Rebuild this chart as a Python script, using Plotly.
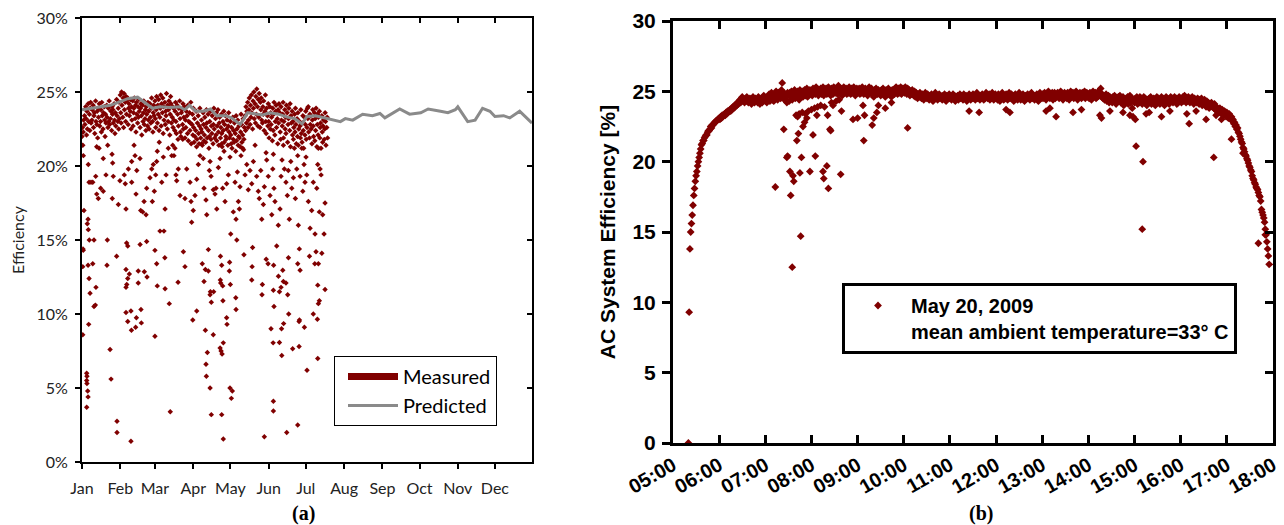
import plotly.graph_objects as go
import pandas as pd

# the page body has an 8 px margin, so the figure is sized to fit the 1284x525 window
OFF = 8
FW, FH = 1284 - OFF, 525 - OFF
DARK_RED = "#800000"
GRAY = "#8a8a8a"


def px(X):
    return (X - OFF) / FW


def py(Y):
    return 1 - (Y - OFF) / FH


# ---------------- Panel (a) data ----------------
months = ["Jan", "Feb", "Mar", "Apr", "May", "Jun", "Jul", "Aug", "Sep", "Oct", "Nov", "Dec"]
month_start_day = [1, 32, 60, 91, 121, 152, 182, 213, 244, 274, 305, 335]

pred_day = [1, 9, 16, 24, 32, 38, 46, 52, 58, 64, 72, 80, 84, 88, 93, 99, 105, 110, 117, 122,
            129, 135, 141, 147, 153, 160, 167, 173, 179, 183, 190, 199, 210, 214, 220, 228, 236,
            242, 246, 258, 266, 275, 281, 291, 297, 303, 305, 313, 319, 325, 331, 335, 342, 347,
            355, 365]
pred_eff = [23.8, 23.9, 24.0, 24.1, 24.35, 24.55, 24.65, 24.3, 23.9, 24.0, 23.95, 24.0, 23.8, 24.1,
            23.7, 23.7, 23.85, 23.4, 23.4, 23.25, 22.8, 23.6, 23.5, 23.45, 23.6, 23.5, 23.3, 23.2,
            22.85, 23.35, 23.4, 23.2, 23.0, 23.2, 23.1, 23.5, 23.4, 23.55, 23.25, 23.85, 23.5,
            23.6, 23.85, 23.7, 23.6, 23.8, 24.0, 23.0, 23.1, 23.9, 23.7, 23.35, 23.4, 23.25, 23.7,
            22.9]

# measured efficiency, dense band: one list of readings per day (day 1 .. 199)
band_eff_by_day = [
    [22.0, 22.6, 21.4], [22.3, 23.1], [23.4, 22.8], [24.0, 23.2, 22.1], [23.7, 22.5],
    [24.2, 23.0], [23.5, 22.4, 23.9], [24.3, 22.9], [23.1, 23.8], [24.1, 22.6, 23.4],
    [23.6, 22.2], [24.4, 23.0], [22.8, 23.7, 21.9], [23.9, 23.3], [24.2, 22.7],
    [23.0, 23.8, 22.3], [24.3, 23.4], [22.5, 23.6], [24.0, 23.1, 22.0], [23.5, 22.9],
    [24.1, 23.3], [22.6, 23.9, 23.0], [24.4, 22.8], [23.2, 23.7], [22.4, 24.0, 23.5],
    [23.8, 22.9], [24.2, 23.1, 22.2], [23.6, 22.7], [24.5, 23.4], [23.0, 23.9, 22.5],
    [24.3, 23.2],
    [24.8, 23.6, 22.9], [25.0, 24.1], [23.3, 24.6, 22.6], [24.9, 23.8], [24.3, 23.0, 24.7],
    [23.5, 24.4], [24.6, 22.8, 23.9], [24.2, 23.4], [23.7, 24.5, 22.5], [24.0, 23.1],
    [24.4, 22.7, 23.6], [23.9, 24.6], [23.2, 24.1, 22.3], [24.3, 23.5], [22.9, 24.0, 23.3],
    [24.5, 23.7], [22.6, 23.9, 24.2], [23.4, 22.1], [24.1, 23.0, 23.6], [24.4, 22.8],
    [23.2, 23.8, 22.4], [24.0, 23.5], [22.7, 24.3, 23.1], [23.7, 22.5], [24.2, 23.3, 22.9],
    [23.9, 24.6], [23.0, 22.3, 23.6], [24.1, 23.4],
    [24.4, 23.2, 22.6], [23.8, 24.7], [22.9, 24.1, 23.5], [24.5, 22.4], [23.3, 23.9, 24.8],
    [22.7, 24.2], [23.6, 24.6, 22.2], [24.0, 23.1], [24.3, 22.8, 23.7], [23.4, 24.9],
    [22.5, 24.1, 23.0], [23.8, 24.4], [22.1, 23.5, 24.7], [24.2, 22.9], [23.3, 24.0, 22.6],
    [23.9, 23.1], [22.4, 23.7, 24.3], [23.0, 22.2], [24.1, 23.5, 21.8], [22.7, 23.9],
    [24.4, 23.2, 22.3], [22.0, 23.6], [23.8, 22.8, 24.2], [22.5, 23.3], [24.0, 21.9, 23.1],
    [22.6, 23.7], [23.4, 22.2, 24.1], [21.7, 23.0], [23.6, 22.4, 22.9], [24.3, 21.5],
    [22.8, 23.5, 22.1],
    [23.9, 22.6, 21.6], [23.2, 22.0], [22.4, 23.7, 21.3], [21.8, 22.9], [23.4, 22.2, 21.5],
    [22.7, 23.9], [21.9, 22.5, 23.1], [22.3, 21.4], [23.6, 22.8, 21.7], [22.1, 23.3],
    [21.6, 22.6, 23.8], [22.9, 21.9], [23.5, 22.4, 21.2], [22.0, 23.0], [23.7, 21.8, 22.7],
    [22.2, 23.4], [21.5, 22.8, 23.9], [22.5, 21.9], [23.2, 22.1, 23.6], [21.7, 22.7],
    [23.8, 22.3, 21.4], [22.9, 23.3], [21.9, 22.6, 23.5], [22.2, 21.3], [23.0, 22.4, 23.7],
    [21.6, 22.8], [23.4, 22.0, 21.8], [22.5, 23.1], [21.4, 22.7, 23.6], [22.3, 21.9],
    [23.0, 22.1, 21.5], [22.6, 21.2], [23.3, 21.8, 22.4], [21.6, 22.9], [22.2, 21.0, 23.4],
    [21.7, 22.5], [23.1, 21.4, 22.0], [22.7, 21.9], [21.3, 22.3, 23.5], [22.8, 21.6],
    [22.1, 23.2, 21.1], [21.8, 22.6],
    [23.4, 22.4, 24.0], [22.9, 23.7], [24.3, 22.6, 23.1], [23.8, 24.6], [22.8, 24.1, 23.3],
    [24.8, 23.6], [22.5, 24.4, 23.9], [25.0, 23.2], [24.2, 22.9, 24.7], [23.5, 25.2],
    [24.0, 22.7, 24.5], [23.3, 24.9], [22.6, 24.3, 23.8], [24.6, 23.1], [22.9, 24.0, 23.5],
    [24.4, 22.4], [23.7, 24.8, 23.0], [22.2, 23.9],
    [23.4, 22.7, 24.2], [23.0, 21.9], [24.0, 22.5, 23.6], [22.8, 23.3], [21.7, 23.9, 22.4],
    [23.5, 24.3], [22.1, 23.0, 23.7], [24.1, 22.6], [23.2, 21.5, 23.8], [22.9, 24.2],
    [23.6, 22.3, 21.8], [24.0, 23.1], [22.7, 23.5, 24.3], [21.9, 23.0], [23.8, 22.5, 23.3],
    [22.2, 24.1], [23.6, 21.6, 22.8], [23.2, 23.9], [22.4, 24.2, 21.3], [23.4, 22.9],
    [23.7, 22.1, 23.0], [21.8, 22.6], [23.5, 22.3, 23.9], [22.8, 21.5], [23.2, 22.0, 23.6],
    [21.4, 22.5], [23.0, 22.7, 21.9], [23.8, 22.2], [21.6, 22.9, 23.4], [22.4, 21.2],
    [23.3, 22.1, 22.8], [23.7, 21.8], [22.6, 23.9, 23.2], [24.0, 22.3], [21.9, 23.5, 22.8],
    [23.4, 22.5], [21.5, 23.1, 23.8], [22.7, 22.0], [23.6, 21.7, 23.2], [22.4, 23.9],
    [21.3, 22.8, 23.5], [22.1, 23.3], [23.7, 21.9, 22.6], [22.9, 21.2], [23.4, 22.3, 21.6],
    [22.7, 23.1], [21.8, 22.5, 23.6], [23.0, 21.4], [22.6, 23.3, 21.9],
]

# measured efficiency, scattered readings 13-22 % (day, %)
mid_points = [
    (1.8, 14.4), (2.0, 14.3), (2.6, 17.0), (5.9, 16.4), (5.3, 16.1), (6.1, 15.7), (10.7, 15.0),
    (6.9, 15.0), (2.1, 20.7), (6.1, 20.1), (6.7, 18.9), (8.3, 18.9), (9.7, 18.9), (12.1, 19.3),
    (12.9, 18.1), (14.2, 17.8), (16.1, 18.5), (18.2, 18.3), (20.4, 19.4), (21.5, 15.0),
    (12.9, 21.3), (14.8, 21.2), (18.2, 20.5), (21.8, 21.4), (25.3, 20.8), (25.8, 20.2),
    (25.5, 17.8), (26.3, 19.3), (30.4, 17.4), (31.7, 19.0), (35.2, 19.4), (36.0, 18.8),
    (36.6, 17.1), (37.1, 14.8), (38.5, 19.8), (41.2, 20.3), (41.2, 18.9), (43.1, 21.4),
    (43.9, 20.7), (44.7, 18.1), (45.3, 19.7), (47.9, 20.5), (48.5, 17.0), (50.1, 16.9),
    (51.2, 17.6), (52.8, 16.7), (53.3, 14.9), (53.3, 18.5), (56.0, 19.2), (57.4, 19.8),
    (57.9, 17.6), (58.7, 20.1), (59.5, 18.3), (60.6, 19.4), (61.4, 20.3), (61.9, 21.0),
    (63.5, 21.6), (64.1, 15.6), (65.5, 18.9), (66.8, 20.6), (67.3, 15.6), (68.2, 17.1),
    (69.0, 19.4), (70.8, 21.2), (73.6, 20.7), (74.4, 21.4), (75.4, 20.7), (76.2, 21.2),
    (77.0, 19.4), (77.6, 19.0), (78.9, 19.8), (80.3, 18.0), (82.5, 21.8), (84.3, 17.8),
    (85.7, 19.8), (88.4, 18.9), (89.2, 17.6), (89.7, 16.2), (91.0, 17.0), (92.4, 18.0),
    (93.8, 19.1), (95.1, 20.1), (96.5, 20.7), (97.8, 21.5), (99.1, 20.5), (99.7, 18.5),
    (101.3, 17.7), (101.9, 16.7), (103.2, 14.35), (104.0, 19.7), (104.6, 20.3), (105.4, 19.3),
    (107.2, 18.4), (108.6, 18.1), (109.4, 18.5), (110.0, 17.1), (111.3, 19.9), (112.7, 20.5),
    (114.0, 21.5), (114.8, 18.5), (115.9, 21.0), (116.7, 17.6), (118.0, 18.8), (119.4, 19.4),
    (120.7, 20.6), (121.3, 15.4), (123.4, 16.9), (124.8, 18.9), (125.6, 16.4), (126.2, 15.0),
    (126.7, 19.6), (127.5, 17.6), (128.3, 17.1), (128.8, 18.6), (129.6, 20.7), (131.0, 21.2),
    (132.9, 19.4), (134.3, 20.1), (135.5, 18.4), (136.9, 19.7), (138.3, 18.8), (139.6, 20.3),
    (141.0, 21.4), (142.3, 19.3), (143.6, 18.3), (144.4, 17.8), (145.6, 19.7), (146.4, 16.4),
    (147.7, 17.4), (148.5, 18.6), (149.9, 20.9), (150.4, 20.4), (151.7, 19.3), (153.1, 18.0),
    (154.5, 16.7), (155.3, 19.8), (155.8, 20.8), (156.3, 18.5), (157.1, 17.6), (158.5, 14.6),
    (159.8, 16.0), (161.2, 17.1), (162.0, 19.3), (162.8, 20.4), (163.9, 21.4), (164.7, 19.8),
    (166.0, 18.9), (167.1, 18.0), (167.9, 19.7), (168.7, 16.4), (169.9, 20.3), (170.7, 18.5),
    (172.0, 19.2), (172.8, 21.2), (173.6, 17.8), (174.7, 19.8), (175.5, 20.7), (176.0, 16.0),
    (176.8, 14.4), (177.4, 19.3), (178.8, 21.2), (179.6, 18.3), (180.6, 20.1), (181.4, 18.9),
    (182.2, 20.6), (182.8, 19.4), (184.1, 17.6), (185.5, 15.8), (186.8, 17.0), (188.1, 18.9),
    (189.5, 15.4), (190.3, 14.2), (190.9, 18.5), (191.7, 20.1), (192.2, 21.2), (193.0, 16.9),
    (193.6, 19.8), (194.4, 19.4), (195.7, 16.7), (196.8, 15.4), (197.6, 17.5),
    (38.0, 14.6), (60.0, 14.3), (139.0, 14.5), (195.0, 14.1), (29.0, 13.9), (48.0, 14.7),
    (68.0, 13.8), (83.0, 14.2), (113.0, 13.9), (132.0, 14.0), (150.0, 13.7), (168.0, 13.8),
    (185.0, 13.9),
]

# measured efficiency, low outliers below 13.5 % (day, %)
low_points = [
    (1.6, 8.6), (4.8, 6.0), (5.0, 5.8), (4.8, 5.5), (5.0, 5.3), (5.6, 4.8), (5.9, 4.4),
    (4.8, 3.7), (6.4, 9.3), (7.5, 11.4), (6.7, 12.4), (9.7, 13.4), (10.7, 10.5), (11.8, 10.6),
    (12.3, 11.8), (5.9, 13.3), (1.6, 13.2), (21.2, 13.3), (23.7, 7.6), (24.5, 5.6), (29.3, 2.75),
    (29.3, 2.0), (40.6, 1.4), (36.6, 10.1), (38.0, 9.5), (40.6, 10.2), (41.0, 8.9), (44.4, 9.1),
    (45.0, 9.75), (48.7, 10.3), (49.0, 9.4), (36.6, 11.8), (37.2, 12.0), (38.0, 12.4),
    (39.3, 12.7), (36.6, 13.0), (46.5, 12.1), (46.5, 12.9), (51.4, 12.85), (53.6, 12.5),
    (60.0, 8.5), (61.4, 13.4), (61.9, 11.9), (68.2, 11.7), (71.6, 10.7), (72.4, 3.4),
    (78.7, 12.15), (84.3, 13.2), (90.6, 9.6), (93.8, 10.2), (98.3, 13.4), (99.7, 12.2),
    (100.8, 8.9), (101.3, 6.6), (101.6, 5.8), (102.4, 7.4), (100.8, 13.0), (103.2, 12.9),
    (104.6, 11.3), (104.9, 11.5), (105.6, 10.8), (107.5, 11.5), (107.2, 8.6), (104.6, 5.0),
    (105.6, 3.2), (112.9, 12.3), (113.2, 12.1), (114.0, 13.3), (114.8, 11.9), (115.0, 10.9),
    (112.7, 7.7), (113.5, 7.5), (114.3, 7.3), (115.3, 8.05), (114.0, 3.2), (115.3, 1.55),
    (118.0, 9.75), (118.3, 9.3), (120.2, 12.9), (121.0, 12.0), (125.4, 11.1), (125.6, 10.3),
    (120.7, 5.0), (122.6, 4.8), (121.8, 4.3), (120.4, 13.5), (138.3, 12.3), (138.6, 13.2),
    (146.6, 11.3), (146.9, 12.0), (148.5, 1.7), (151.5, 13.4), (153.9, 9.0), (155.8, 11.6),
    (156.0, 13.3), (155.6, 8.05), (156.3, 10.5), (155.8, 4.1), (155.8, 3.45), (160.7, 11.5),
    (160.7, 8.07), (159.9, 12.55), (162.0, 11.8), (163.4, 12.95), (163.9, 12.2), (164.1, 9.35),
    (162.6, 7.2), (162.4, 9.0), (166.0, 12.1), (167.4, 11.3), (166.6, 2.0), (168.2, 10.0),
    (171.4, 7.65), (175.5, 2.5), (176.6, 9.5), (176.9, 9.6), (176.6, 7.8), (177.4, 12.95),
    (175.5, 13.4), (180.9, 9.1), (183.0, 6.2), (188.1, 10.0), (191.4, 9.65), (191.7, 7.0),
    (192.2, 10.7), (193.0, 10.9), (191.7, 11.95), (189.3, 13.4), (192.2, 13.4), (197.6, 11.65),
]

# ---------------- Panel (b) data ----------------
main_start = "2009-05-20 05:20"
# one reading per minute from 05:20 to 17:55
main_eff = [
    0.0, 9.3, 13.8, 15.0, 15.6, 16.2, 16.9, 17.6, 18.1, 18.6,
    19.0, 19.3, 19.7, 20.0, 20.3, 20.6, 20.9, 21.2, 21.3, 21.5,
    21.5, 21.7, 21.8, 21.9, 21.9, 22.1, 22.2, 22.2, 22.3, 22.5,
    22.4, 22.6, 22.6, 22.7, 22.8, 22.8, 22.9, 22.9, 23.0, 23.0,
    23.1, 23.0, 23.2, 23.1, 23.3, 23.2, 23.3, 23.4, 23.3, 23.5,
    23.4, 23.6, 23.5, 23.6, 23.7, 23.6, 23.8, 23.7, 23.9, 23.8,
    24.0, 23.9, 24.1, 24.0, 24.2, 24.1, 24.3, 24.4, 24.2, 24.5,
    24.6, 24.3, 24.4, 24.2, 24.5, 24.3, 24.6, 24.4, 24.2, 24.3,
    24.5, 24.4, 24.1, 24.3, 24.6, 24.4, 24.2, 24.5, 24.3, 24.4,
    24.2, 24.6, 24.3, 24.1, 24.4, 24.5, 24.2, 24.3, 24.7, 24.4,
    24.3, 24.5, 24.2, 24.6, 24.4, 24.8, 24.3, 24.5, 24.9, 24.4,
    24.6, 24.3, 24.8, 24.5, 25.0, 24.7, 24.4, 24.9, 24.6, 24.8,
    24.5, 25.1, 25.6, 24.7, 24.9, 24.4, 24.8, 24.6, 24.2, 24.9,
    24.8, 24.3, 24.9, 24.6, 25.0, 24.4, 24.8, 24.7, 25.1, 24.5,
    24.9, 24.6, 25.0, 24.8, 24.4, 25.1, 24.7, 24.9, 25.0, 24.6,
    24.8, 25.1, 24.7, 24.9, 25.2, 24.6, 25.0, 24.8, 25.1, 24.9,
    25.0, 24.7, 25.2, 24.9, 25.1, 24.8, 25.3, 24.9, 25.0, 24.7,
    25.1, 24.9, 25.2, 24.8, 25.0, 25.3, 24.7, 25.1, 24.9, 25.2,
    24.8, 25.0, 25.3, 24.9, 25.1, 24.7, 25.2, 25.0, 24.8, 25.3,
    25.1, 24.9, 25.2, 25.0, 24.8, 25.4, 25.1, 24.9, 25.2, 25.0,
    24.7, 25.1, 25.3, 24.9, 25.0, 25.2, 24.8, 25.1, 24.9, 25.3,
    25.0, 24.8, 25.2, 25.1, 24.9, 25.3, 25.0, 24.7, 25.1, 25.2,
    24.9, 25.0, 25.2, 24.8, 25.1, 24.9, 25.3, 25.0, 24.8, 25.1,
    25.2, 24.9, 25.0, 24.7, 25.1, 25.3, 24.9, 25.0, 25.2, 24.8,
    25.0, 24.6, 25.1, 24.9, 25.2, 25.0, 24.8, 25.1, 24.9, 25.0,
    24.7, 25.1, 24.9, 25.2, 24.8, 25.0, 24.6, 25.1, 24.9, 25.0,
    25.2, 24.8, 25.0, 24.9, 24.6, 25.1, 24.9, 25.0, 24.8, 25.2,
    25.3, 25.0, 24.8, 25.2, 24.9, 25.1, 25.3, 24.8, 25.0, 25.2,
    25.1, 24.9, 25.3, 25.0, 24.8, 25.2, 24.9, 25.1, 24.7, 25.0,
    24.8, 25.1, 24.9, 24.7, 25.0, 24.6, 24.9, 24.7, 24.5, 24.8,
    24.6, 24.9, 24.7, 24.5, 24.8, 24.6, 24.4, 24.7, 24.9, 24.6,
    24.5, 24.8, 24.6, 24.4, 24.7, 24.5, 24.8, 24.6, 24.3, 24.7,
    24.6, 24.9, 24.5, 24.7, 24.4, 24.6, 24.8, 24.5, 24.7, 24.6,
    24.4, 24.7, 24.5, 24.8, 24.6, 24.3, 24.7, 24.5, 24.6, 24.8,
    24.5, 24.7, 24.4, 24.6, 24.8, 24.5, 24.7, 24.3, 24.6, 24.5,
    24.7, 24.4, 24.6, 24.8, 24.5, 24.7, 24.6, 24.4, 24.8, 24.5,
    24.6, 24.7, 24.3, 24.6, 24.5, 24.8, 24.6, 24.4, 24.7, 24.5,
    24.8, 24.5, 24.7, 24.4, 24.6, 24.9, 24.5, 24.7, 24.6, 24.4,
    24.7, 24.5, 24.8, 24.6, 24.4, 24.7, 24.5, 24.9, 24.6, 24.5,
    24.6, 24.8, 24.4, 24.7, 24.5, 24.9, 24.6, 24.4, 24.7, 24.8,
    24.5, 24.7, 24.4, 24.8, 24.6, 24.3, 24.7, 24.5, 24.9, 24.6,
    24.4, 24.7, 24.5, 24.8, 24.6, 24.4, 24.7, 24.9, 24.5, 24.6,
    24.8, 24.5, 24.7, 24.3, 24.6, 24.8, 24.5, 24.7, 24.4, 24.6,
    24.9, 24.6, 24.4, 24.7, 24.5, 24.8, 24.6, 24.3, 24.7, 24.5,
    24.6, 24.8, 24.5, 24.7, 24.4, 24.6, 24.9, 24.5, 24.7, 24.6,
    24.4, 24.7, 24.5, 24.8, 24.6, 24.3, 24.7, 24.9, 24.5, 24.6,
    24.8, 24.5, 24.7, 24.9, 24.6, 24.4, 24.8, 24.6, 25.0, 24.7,
    24.5, 24.8, 24.6, 24.9, 24.4, 24.7, 24.9, 24.5, 24.8, 24.6,
    24.9, 24.7, 24.5, 24.8, 25.0, 24.6, 24.8, 24.4, 24.7, 24.9,
    24.6, 24.8, 24.5, 24.9, 24.7, 24.4, 24.8, 25.0, 24.6, 24.7,
    24.9, 24.5, 24.8, 24.6, 25.0, 24.7, 24.4, 24.8, 24.6, 24.9,
    24.7, 24.5, 24.9, 24.6, 24.8, 25.0, 24.5, 24.7, 24.9, 24.6,
    24.8, 24.5, 24.9, 24.7, 24.4, 24.8, 25.0, 24.6, 24.7, 24.9,
    24.5, 24.8, 24.6, 25.0, 24.7, 24.9, 25.2, 24.6, 24.8, 24.5,
    24.7, 24.4, 24.6, 24.8, 24.3, 24.5, 24.7, 24.2, 24.6, 24.4,
    24.5, 24.2, 24.6, 24.3, 24.7, 24.4, 24.1, 24.5, 24.3, 24.6,
    24.4, 24.7, 24.2, 24.5, 24.3, 24.6, 24.0, 24.4, 24.2, 24.5,
    24.3, 24.6, 24.1, 24.4, 24.7, 24.2, 24.5, 23.8, 24.3, 24.4,
    24.2, 24.5, 24.3, 24.6, 24.1, 24.4, 24.2, 24.6, 24.3, 24.5,
    24.1, 24.4, 24.6, 24.2, 24.5, 24.3, 24.0, 24.4, 24.2, 24.5,
    24.3, 24.6, 24.1, 24.4, 24.2, 24.5, 24.3, 24.0, 24.4, 24.6,
    24.2, 24.5, 24.3, 24.1, 24.4, 24.6, 24.2, 24.5, 24.3, 24.0,
    24.4, 24.6, 24.2, 24.5, 24.3, 24.1, 24.4, 24.6, 24.3, 24.5,
    24.2, 24.4, 24.6, 24.3, 24.5, 24.1, 24.4, 24.2, 24.6, 24.3,
    24.5, 24.2, 24.4, 24.6, 24.3, 24.7, 24.4, 24.2, 24.5, 24.3,
    24.6, 24.4, 24.2, 24.5, 24.3, 24.6, 24.4, 24.1, 24.5, 24.3,
    24.4, 24.2, 24.5, 24.3, 24.1, 24.4, 24.2, 24.5, 24.0, 24.3,
    24.1, 24.4, 24.2, 23.9, 24.3, 24.1, 24.2, 23.8, 24.1, 24.0,
    24.2, 23.9, 24.0, 23.8, 24.1, 23.7, 23.9, 23.6, 23.8, 23.7,
    23.5, 23.8, 23.6, 23.4, 23.7, 23.5, 23.3, 23.6, 23.4, 23.2,
    23.5, 23.3, 23.1, 23.4, 23.2, 23.0, 23.2, 22.9, 23.0, 22.7,
    22.8, 22.5, 22.6, 22.3, 22.4, 22.1, 22.0, 21.8, 21.6, 21.4,
    21.3, 21.0, 20.9, 20.7, 20.5, 20.4, 20.2, 20.1, 19.9, 19.7,
    19.6, 19.4, 19.3, 19.0, 18.8, 18.7, 18.5, 18.4, 18.2, 18.1,
    18.0, 17.8, 17.6, 17.5, 17.2, 16.6, 16.4, 16.2, 16.0, 15.7,
    15.2, 14.8, 14.3, 13.8, 13.3, 12.7,
]

# additional readings off the main band (time, %)
extra_time = [
    "07:13", "07:24", "07:28", "07:29", "07:32", "07:33", "07:35", "07:36", "07:37", "07:41",
    "07:43", "07:45", "07:46", "07:47", "07:49", "07:51", "07:54", "07:58", "08:02", "08:05",
    "08:07", "08:15", "08:16", "08:20", "08:22", "08:21", "08:24", "08:25", "08:38", "08:39",
    "08:28", "09:00", "09:07", "09:08", "09:09", "09:19", "09:21", "09:25", "09:44", "10:05",
    "07:40", "07:42", "07:44", "07:48", "07:52", "07:56", "08:00", "08:04", "08:08", "08:12",
    "08:17", "08:26", "08:32", "08:36", "08:54", "09:27", "09:36",
    "11:25", "11:38", "12:13", "12:18", "13:05", "13:10", "13:18", "13:40", "13:51", "14:15",
    "14:17", "14:28", "14:45", "14:54", "14:58", "15:01", "15:02", "15:11", "15:10", "15:15",
    "15:19", "15:35", "15:46", "16:08", "16:11", "16:20", "16:33", "16:43", "16:46", "16:53",
    "17:06", "17:21", "17:41", "17:50",
]
extra_eff = [
    18.2, 22.3, 20.3, 20.4, 19.3, 17.6, 12.5, 19.0, 18.6, 21.5,
    22.0, 19.2, 14.7, 20.3, 22.5, 22.8, 23.1, 19.3, 21.9, 20.4,
    23.3, 19.3, 18.8, 19.7, 18.1, 23.3, 22.3, 22.2, 19.1, 23.6,
    24.0, 23.1, 24.0, 21.5, 23.3, 22.6, 23.1, 23.5, 24.2, 22.4,
    23.3, 23.2, 23.4, 23.5, 23.4, 23.6, 23.7, 23.8, 23.9, 24.0,
    23.9, 24.2, 24.3, 24.4, 23.0, 24.0, 23.8,
    23.6, 23.5, 23.7, 23.5, 23.6, 23.8, 23.2, 23.5, 23.7, 23.3,
    23.1, 23.6, 23.5, 23.3, 23.2, 23.0, 21.1, 20.0, 15.2, 23.4,
    23.5, 23.2, 23.6, 23.4, 22.7, 23.6, 23.0, 20.3, 23.3, 23.0,
    21.6, 20.6, 14.2, 14.8,
]

# ---------------- build series ----------------
band_x, band_y = [], []
for i, vals in enumerate(band_eff_by_day):
    for j, v in enumerate(vals):
        band_x.append(i + 1 + j / 3)
        band_y.append(v)
meas_x = band_x + [p[0] for p in mid_points] + [p[0] for p in low_points]
meas_y = band_y + [p[1] for p in mid_points] + [p[1] for p in low_points]

main_t = pd.date_range(main_start, periods=len(main_eff), freq="min")
extra_t = pd.to_datetime(["2009-05-20 " + t for t in extra_time])
b_t = list(main_t) + list(extra_t)
b_y = main_eff + extra_eff

fig = go.Figure()

# panel (a)
fig.add_trace(go.Scatter(x=meas_x, y=meas_y, mode="markers", xaxis="x", yaxis="y",
                         marker=dict(symbol="diamond", size=4.2, color=DARK_RED),
                         showlegend=False, hoverinfo="skip"))
fig.add_trace(go.Scatter(x=pred_day, y=pred_eff, mode="lines", xaxis="x", yaxis="y",
                         line=dict(color=GRAY, width=3), name="Predicted", legend="legend",
                         showlegend=False))
fig.add_trace(go.Scatter(x=[None], y=[None], mode="lines", xaxis="x", yaxis="y",
                         line=dict(color=DARK_RED, width=7), name="Measured", legend="legend"))
fig.add_trace(go.Scatter(x=[None], y=[None], mode="lines", xaxis="x", yaxis="y",
                         line=dict(color=GRAY, width=3), name="Predicted", legend="legend"))
fig.add_trace(go.Scatter(x=[None], y=[None], xaxis="x3", yaxis="y3", showlegend=False))

# panel (b)
fig.add_trace(go.Scatter(x=b_t, y=b_y, mode="markers", xaxis="x2", yaxis="y2",
                         marker=dict(symbol="diamond", size=6, color=DARK_RED),
                         name="May 20, 2009<br>mean ambient temperature=33\u00b0 C",
                         legend="legend2"))
fig.add_trace(go.Scatter(x=[None], y=[None], xaxis="x2", yaxis="y4", showlegend=False))

dom_a_x = [px(82), px(532)]
dom_a_y = [py(462), py(18)]
dom_b_x = [px(673), px(1273)]
dom_b_y = [py(443), py(21)]

font_a = dict(family="Lato, Open Sans, sans-serif", size=16, color="#222222")
font_b = dict(family="Liberation Sans, Arial, sans-serif", size=21, color="black", weight="bold")

day_range = [1, 365]
t_range = ["2009-05-20 05:00", "2009-05-20 18:00"]

fig.update_layout(
    width=FW, height=FH,
    margin=dict(l=0, r=0, t=0, b=0, autoexpand=False),
    paper_bgcolor="white", plot_bgcolor="white",
    xaxis=dict(domain=dom_a_x, anchor="y", range=day_range, tickmode="array",
               tickvals=month_start_day, ticktext=months, ticks="outside", ticklen=5,
               tickwidth=1.5, tickcolor="black", showline=True, linewidth=2, linecolor="black",
               mirror=True, showgrid=False, zeroline=False, tickfont=font_a,
               ticklabelstandoff=6, automargin=False, ticklabeloverflow="allow"),
    yaxis=dict(domain=dom_a_y, anchor="x", range=[0, 30], dtick=5, ticksuffix="%",
               ticks="outside", ticklen=5, tickwidth=1.5, tickcolor="black", showline=True,
               linewidth=2, linecolor="black", mirror=True, showgrid=False, zeroline=False,
               tickfont=font_a, automargin=False, ticklabelstandoff=4,
               ticklabeloverflow="allow",
               title=dict(text="Efficiency", standoff=14,
                          font=dict(family="Lato, sans-serif", size=16, color="#222222"))),
    xaxis3=dict(overlaying="x", side="top", anchor="y", range=day_range, tickmode="array",
                tickvals=month_start_day, ticks="inside", ticklen=5, tickwidth=1.5,
                tickcolor="black", showticklabels=False, showline=False, showgrid=False,
                zeroline=False, automargin=False),
    yaxis3=dict(overlaying="y", side="right", anchor="x", range=[0, 30], dtick=5,
                ticks="inside", ticklen=5, tickwidth=1.5, tickcolor="black",
                showticklabels=False, showline=False, showgrid=False, zeroline=False,
                automargin=False),
    xaxis2=dict(domain=dom_b_x, anchor="y2", type="date", range=t_range, dtick=3600000,
                tick0="2009-05-20 05:00", tickformat="%H:%M", tickangle=-30, ticks="inside",
                ticklen=8, tickwidth=3, tickcolor="black", showline=True, linewidth=3,
                linecolor="black", mirror="ticks", showgrid=False, zeroline=False,
                automargin=False, ticklabeloverflow="allow",
                tickfont=dict(family="Liberation Sans, Arial, sans-serif", size=20,
                              color="black", weight="bold")),
    yaxis2=dict(domain=dom_b_y, anchor="x2", range=[0, 30], dtick=5, ticks="outside",
                ticklen=8, tickwidth=3, tickcolor="black", showline=True, linewidth=3,
                linecolor="black", mirror=True, showgrid=False, zeroline=False,
                tickfont=font_b, automargin=False, ticklabelstandoff=2,
                ticklabeloverflow="allow",
                title=dict(text="AC System Efficiency [%]", standoff=12,
                           font=dict(family="Liberation Sans, Arial, sans-serif", size=21,
                                     color="black", weight="bold"))),
    yaxis4=dict(overlaying="y2", side="right", anchor="x2", range=[0, 30], dtick=5,
                ticks="inside", ticklen=8, tickwidth=3, tickcolor="black",
                showticklabels=False, showline=False, showgrid=False, zeroline=False,
                automargin=False),
    legend=dict(x=px(334), y=py(356), xanchor="left", yanchor="top",
                bgcolor="white", bordercolor="black", borderwidth=1,
                font=dict(family="Lato, sans-serif", size=20, color="black"),
                itemwidth=50, indentation=8, tracegroupgap=0),
    legend2=dict(x=px(842), y=py(283), xanchor="left", yanchor="top",
                 bgcolor="white", bordercolor="black", borderwidth=3, valign="top",
                 itemwidth=56, indentation=0,
                 font=dict(family="Liberation Sans, Arial, sans-serif", size=20,
                           color="black", weight="bold")),
    annotations=[
        dict(text="(a)", x=px(303), y=py(513), xref="paper", yref="paper",
             showarrow=False, xanchor="center", yanchor="middle",
             font=dict(family="Liberation Serif, Times New Roman, serif", size=20,
                       color="black", weight="bold")),
        dict(text="(b)", x=px(981), y=py(513), xref="paper", yref="paper",
             showarrow=False, xanchor="center", yanchor="middle",
             font=dict(family="Liberation Serif, Times New Roman, serif", size=20,
                       color="black", weight="bold")),
    ],
)

fig.write_html("out.html")
